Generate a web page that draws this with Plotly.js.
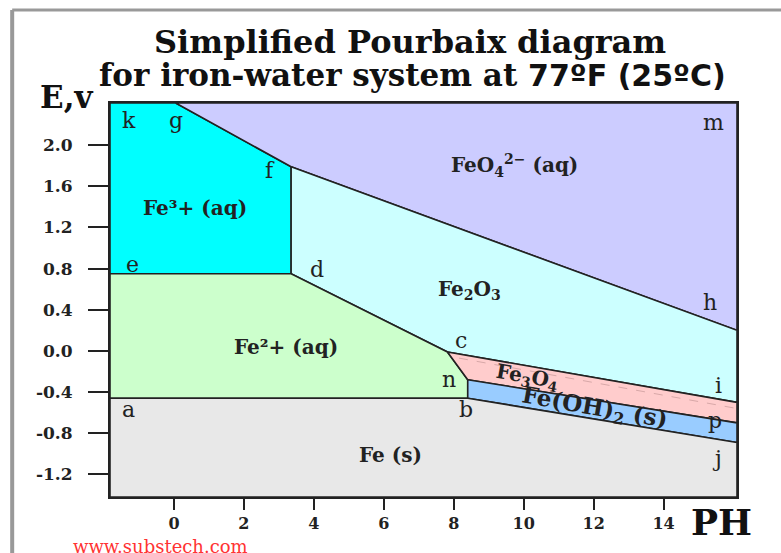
<!DOCTYPE html>
<html>
<head>
<meta charset="utf-8">
<script src="https://cdn.plot.ly/plotly-3.0.1.min.js"></script>
<style>
  body { margin: 0; background: #fff; }
  #chart { width: 781px; height: 553px; }
</style>
</head>
<body>
<div id="chart"></div>
<script>
// axis limits (pH, volts)
var phMin = -1.83, phMax = 16.1
var eMin = -1.42, eMax = 2.41

// boundary points [pH, E]
var ptK = [phMin, eMax]
var ptG = [0.05, eMax]
var ptM = [phMax, eMax]
var ptF = [3.35, 1.79]
var ptE = [phMin, 0.75]
var ptD = [3.35, 0.75]
var ptH = [phMax, 0.2]
var ptC = [7.82, -0.01]
var ptN = [8.4, -0.28]
var ptB = [8.4, -0.46]
var ptA = [phMin, -0.46]
var ptI = [phMax, -0.5]
var ptP = [phMax, -0.7]
var ptJ = [phMax, -0.89]
var ptBR = [phMax, eMin]
var ptBL = [phMin, eMin]

// regions
var regionNames = ['Fe3+', 'FeO4', 'Fe2O3', 'Fe2+', 'Fe3O4', 'FeOH2', 'Fe']
var regionPoints = [
    [ptK, ptG, ptF, ptD, ptE],
    [ptG, ptM, ptH, ptF],
    [ptF, ptH, ptI, ptC, ptD],
    [ptE, ptD, ptC, ptN, ptB, ptA],
    [ptC, ptI, ptP, ptN],
    [ptN, ptP, ptJ, ptB],
    [ptA, ptB, ptJ, ptBR, ptBL]
]
var regionColors = ['#00ffff', '#ccccff', '#ccffff', '#ccffcc', '#ffcccc', '#99ccff', '#e8e8e8']

var xTicks = [0, 2, 4, 6, 8, 10, 12, 14]
var yTicks = [-1.2, -0.8, -0.4, 0.0, 0.4, 0.8, 1.2, 1.6, 2.0]
var yTickText = ['-1.2', '-0.8', '-0.4', '0.0', '0.4', '0.8', '1.2', '1.6', '2.0']

// letter labels and where they sit
var letters = ['k', 'g', 'm', 'f', 'e', 'd', 'h', 'c', 'n', 'i', 'a', 'b', 'p', 'j']
var letterX = [-1.3, 0.05, 15.42, 2.75, -1.2, 4.1, 15.33, 8.22, 7.85, 15.56, -1.3, 8.35, 15.47, 15.53]
var letterY = [2.24, 2.24, 2.22, 1.75, 0.84, 0.79, 0.47, 0.1, -0.28, -0.34, -0.57, -0.57, -0.68, -1.05]

// phase labels
var phaseText = ['FeO<sub>4</sub><sup>2−</sup> (aq)', 'Fe³+ (aq)', 'Fe<sub>2</sub>O<sub>3</sub>', 'Fe²+ (aq)', 'Fe (s)', 'Fe<sub>3</sub>O<sub>4</sub>', 'Fe(OH)<sub>2</sub> (s)']
var phaseX = [9.75, 0.6, 8.45, 3.2, 6.2, 10.1, 12.03]
var phaseY = [1.8, 1.39, 0.59, 0.04, -1.01, -0.25, -0.56]
var phaseAngle = [0, 0, 0, 0, 0, 10, 10]
var phaseSize = [20, 20, 20, 20, 20, 20, 23]

var data = regionPoints.map((pts, i) => ({
    x: pts.map(p => p[0]).concat([pts[0][0]]),
    y: pts.map(p => p[1]).concat([pts[0][1]]),
    type: 'scatter',
    mode: 'lines',
    fill: 'toself',
    fillcolor: regionColors[i],
    line: { color: '#222', width: 1.6 },
    name: regionNames[i],
    hoverinfo: 'name'
}))

// faint dashed line inside the Fe3O4 band
data.push({
    x: [8.15, phMax],
    y: [-0.07, -0.56],
    type: 'scatter',
    mode: 'lines',
    line: { color: '#d8a8a8', width: 1, dash: 'dash' },
    hoverinfo: 'skip'
})

var serif = 'DejaVu Serif, Liberation Serif, serif'

var annotations = letters.map((t, i) => ({
    x: letterX[i], y: letterY[i], text: t, showarrow: false,
    xanchor: 'center', yanchor: 'middle',
    font: { family: serif, size: 22, color: '#222' }
})).concat(phaseText.map((t, i) => ({
    x: phaseX[i], y: phaseY[i], text: t, showarrow: false, textangle: phaseAngle[i],
    xanchor: 'center', yanchor: 'middle',
    font: { family: serif, size: phaseSize[i], color: '#222', weight: 'bold' }
}))).concat([
    { xref: 'paper', yref: 'paper', x: 0.478, y: 1.155, xanchor: 'center', yanchor: 'middle',
      text: 'Simplified Pourbaix diagram', showarrow: false,
      font: { family: serif, size: 32, weight: 'bold', color: '#111' } },
    { xref: 'paper', yref: 'paper', x: 0.482, y: 1.071, xanchor: 'center', yanchor: 'middle',
      text: 'for iron-water system at <span style="font-family:DejaVu Sans, sans-serif;font-size:30px">77ºF (25ºC)</span>',
      showarrow: false,
      font: { family: serif, size: 31, weight: 'bold', color: '#111' } },
    { xref: 'paper', yref: 'paper', x: -0.069, y: 1.015, xanchor: 'center', yanchor: 'middle',
      text: 'E,v', showarrow: false,
      font: { family: serif, size: 31, weight: 'bold', color: '#111' } },
    { xref: 'paper', yref: 'paper', x: 0.976, y: -0.063, xanchor: 'center', yanchor: 'middle',
      text: 'PH', showarrow: false,
      font: { family: serif, size: 36, weight: 'bold', color: '#111' } },
    { xref: 'paper', yref: 'paper', x: 0.08, y: -0.125, xanchor: 'center', yanchor: 'middle',
      text: 'www.substech.com', showarrow: false,
      font: { family: serif, size: 18, color: '#ff3333' } }
])

Plotly.newPlot('chart', data, {
    width: 781,
    height: 553,
    margin: { l: 110, r: 44, t: 103, b: 56 },
    paper_bgcolor: '#fff',
    plot_bgcolor: '#fff',
    showlegend: false,
    xaxis: {
        range: [phMin, phMax],
        tickvals: xTicks,
        ticks: 'outside', ticklen: 11, tickwidth: 2, tickcolor: '#222',
        ticklabelstandoff: 0,
        tickfont: { family: serif, size: 16, weight: 'bold', color: '#222' },
        showgrid: false, zeroline: false,
        showline: true, linecolor: '#222', linewidth: 2, mirror: true
    },
    yaxis: {
        range: [eMin, eMax],
        tickvals: yTicks, ticktext: yTickText,
        ticks: 'outside', ticklen: 20, tickwidth: 2, tickcolor: '#222',
        ticklabelstandoff: 12,
        tickfont: { family: serif, size: 17, weight: 'bold', color: '#222' },
        showgrid: false, zeroline: false,
        showline: true, linecolor: '#222', linewidth: 2, mirror: true
    },
    annotations: annotations,
    shapes: [
        { type: 'line', xref: 'paper', yref: 'paper', x0: -0.156, x1: -0.156, y0: -0.2, y1: 1.236,
          line: { color: '#999', width: 4 } },
        { type: 'line', xref: 'paper', yref: 'paper', x0: -0.156, x1: 1.2, y0: 1.236, y1: 1.236,
          line: { color: '#999', width: 3 } }
    ]
}, { displayModeBar: false });
</script>
</body>
</html>
